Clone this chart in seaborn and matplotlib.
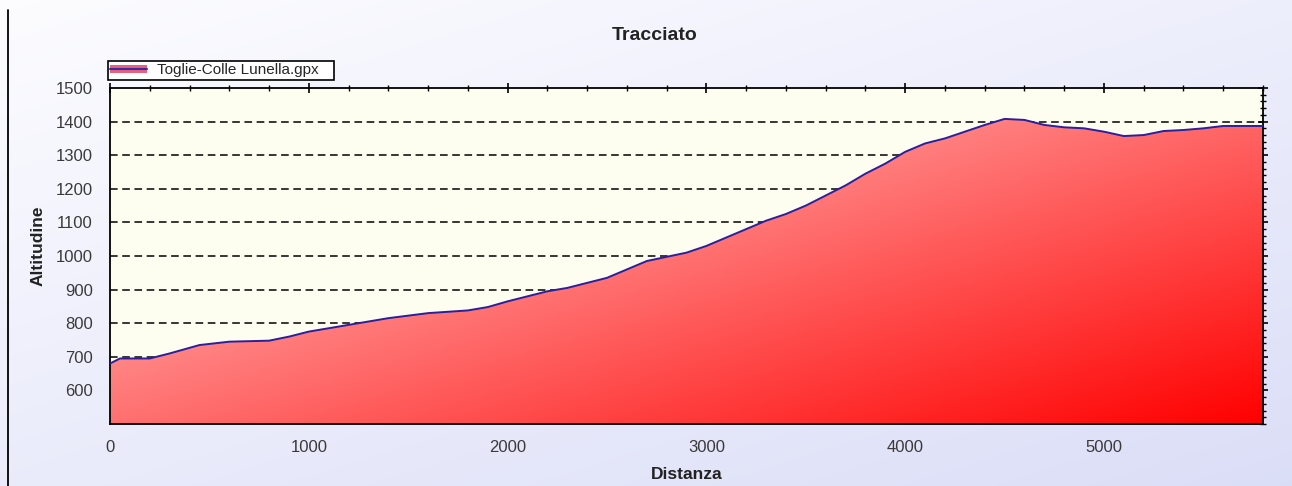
import numpy as np
import pandas as pd
import matplotlib
matplotlib.use("Agg")
import matplotlib.pyplot as plt
import seaborn as sns
from matplotlib.patches import Patch
from matplotlib.lines import Line2D
from matplotlib.ticker import MultipleLocator, FixedLocator

# ---- data ----
distanza = [0, 50, 200, 300, 450, 600, 800, 900, 1000, 1200, 1400, 1600, 1800, 1900,
            2000, 2200, 2300, 2500, 2600, 2700, 2900, 3000, 3100, 3200, 3300, 3400,
            3500, 3600, 3700, 3800, 3900, 4000, 4100, 4200, 4300, 4400, 4500, 4600,
            4700, 4800, 4900, 5000, 5100, 5200, 5300, 5400, 5500, 5600, 5800]
altitudine = [680, 695, 695, 710, 735, 745, 748, 760, 775, 795, 815, 830, 838, 848,
              865, 895, 905, 935, 960, 985, 1010, 1030, 1055, 1080, 1105, 1125,
              1150, 1180, 1210, 1245, 1275, 1310, 1335, 1350, 1370, 1390, 1408, 1405,
              1390, 1383, 1380, 1370, 1357, 1360, 1372, 1375, 1380, 1387, 1387]
serie = "Toglie-Colle Lunella.gpx"
titolo = "Tracciato"
y_ticks = [600, 700, 800, 900, 1000, 1100, 1200, 1300, 1400, 1500]
x_ticks = [0, 1000, 2000, 3000, 4000, 5000]

df = pd.DataFrame({"Distanza": distanza, "Altitudine": altitudine})

sns.set_theme(style="white")
plt.rcParams["font.family"] = ["Liberation Sans", "DejaVu Sans"]

W, H = 1292, 486
fig = plt.figure(figsize=(W / 100, H / 100), dpi=100)

# figure background gradient
bg = fig.add_axes([0, 0, 1, 1], zorder=-10)
gy, gx = np.mgrid[0:1:200j, 0:1:400j]
t = np.clip(0.55 * gy + 0.45 * gx, 0, 1)
c0 = np.array([0.99, 0.99, 1.0])
c1 = np.array([0.86, 0.87, 0.97])
img = c0[None, None, :] * (1 - t[..., None]) + c1[None, None, :] * t[..., None]
bg.imshow(img, extent=[0, 1, 0, 1], aspect="auto", origin="upper")
bg.set_axis_off()

left, right = 110 / W, 1263 / W
bottom, top = 1 - 424 / H, 1 - 88 / H
ax = fig.add_axes([left, bottom, right - left, top - bottom])
ax.set_facecolor("#fdfdf0")

xmin, xmax = 0, 5800
ymin, ymax = 500, 1500

# grid lines behind fill
for yv in y_ticks[:-1]:
    ax.axhline(yv, color="black", lw=1.1, ls=(0, (5, 3)), zorder=1)

# gradient fill clipped to area under the profile
poly = ax.fill_between(df["Distanza"], df["Altitudine"], ymin, color="none", lw=0, zorder=2)
gy2, gx2 = np.mgrid[0:1:300j, 0:1:600j]
s = np.clip(0.5 * gx2 + 0.5 * gy2, 0, 1)
top_c = np.array([1.0, 0.88, 0.88])
bot_c = np.array([1.0, 0.0, 0.0])
fill_img = top_c[None, None, :] * (1 - s[..., None]) + bot_c[None, None, :] * s[..., None]
im = ax.imshow(fill_img, extent=[xmin, xmax, ymin, ymax], aspect="auto",
               origin="upper", zorder=2)
path = poly.get_paths()[0]
im.set_clip_path(path, transform=ax.transData)

sns.lineplot(data=df, x="Distanza", y="Altitudine", ax=ax, color="#2c1f9c",
             lw=1.4, zorder=3, legend=False)

ax.set_xlim(xmin, xmax)
ax.set_ylim(ymin, ymax)
ax.xaxis.set_major_locator(FixedLocator(x_ticks))
ax.xaxis.set_minor_locator(MultipleLocator(200))
ax.yaxis.set_major_locator(FixedLocator(y_ticks))
ax.yaxis.set_minor_locator(MultipleLocator(20))
ax.set_xticklabels([str(v) for v in x_ticks])
ax.set_yticklabels([str(v) for v in y_ticks])
ax.tick_params(which="major", direction="inout", length=7, width=1.2, colors="black",
               labelcolor="#3a3a3a", labelsize=12, top=True, right=True)
ax.tick_params(which="minor", direction="inout", length=4, width=1, colors="black",
               top=True, right=True)
ax.tick_params(axis="x", which="major", pad=8)
ax.tick_params(axis="y", which="major", pad=9)
for sp in ax.spines.values():
    sp.set_color("black")
    sp.set_linewidth(1.3)
    sp.set_visible(True)

ax.set_xlabel("Distanza", fontsize=12.5, fontweight="bold", color="#222222", labelpad=9)
ax.set_ylabel("Altitudine", fontsize=12.5, fontweight="bold", color="#222222")
ax.yaxis.set_label_coords(-0.056, 0.53)
fig.text(655 / W, 1 - 36 / H, titolo, ha="center", va="center",
         fontsize=14, fontweight="bold", color="#222222")

handle = (Patch(facecolor="#e8607a", edgecolor="none"),
          Line2D([0], [0], color="#3a2aa8", lw=1.5))
leg = ax.legend([handle], [serie + "   "], loc="lower left", bbox_to_anchor=(-0.002, 1.025),
                frameon=True, fancybox=False, edgecolor="black", fontsize=11,
                borderpad=0.15, handlelength=2.4, handleheight=0.5, borderaxespad=0,
                handletextpad=0.7, facecolor="white", framealpha=1)
leg.get_frame().set_linewidth(1.2)

# left border line of the image
fig.add_artist(Line2D([8 / W, 8 / W], [0, 1 - 10 / H], color="black", lw=1.3,
                      transform=fig.transFigure))

fig.savefig("out.png", dpi=100)
